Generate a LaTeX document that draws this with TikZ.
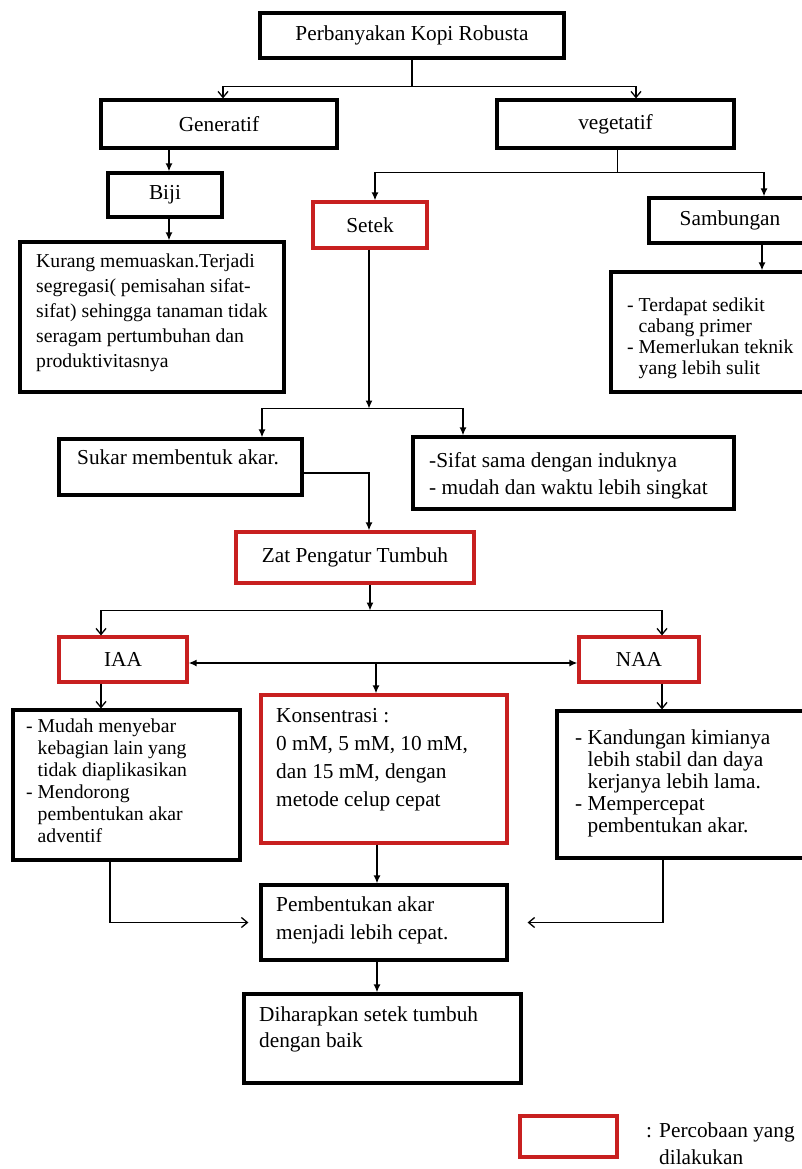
\documentclass[tikz,border=0pt]{standalone}
\usepackage{fontspec}
\setmainfont{Liberation Serif}
\usetikzlibrary{arrows.meta}
\definecolor{boxred}{RGB}{200,32,32}
\tikzset{
  bbox/.style={draw=black, line width=3.2pt, inner sep=0pt, fill=white},
  rbox/.style={draw=boxred, line width=3.2pt, inner sep=0pt, fill=white},
  ftxt/.style={font=\fontsize{21.3}{25}\selectfont},
  txt/.style={font=\fontsize{21.3}{#1}\selectfont, inner sep=0pt, anchor=north west, align=left},
  stxt/.style={font=\fontsize{19.7}{#1}\selectfont, inner sep=0pt, anchor=north west, align=left},
  ln/.style={draw=black, line width=1.5pt},
  farrow/.style={-{Latex[length=8pt,width=7pt]}},
  barrow/.style={{Latex[length=8pt,width=7pt]}-{Latex[length=8pt,width=7pt]}},
  varrow/.style={-{Straight Barb[length=6pt,width=10pt,line width=1.3pt]}},
}
\newcommand{\dsh}{\phantom{- }}
\begin{document}
\begin{tikzpicture}[x=1pt,y=-1pt]
\useasboundingbox (0,0) rectangle (801,1169);
% boxes
\node[bbox,ftxt,minimum width=304pt,minimum height=45pt] (top) at (412,35.5) {Perbanyakan Kopi Robusta};
\node[bbox,ftxt,minimum width=236pt,minimum height=48pt] (gen) at (219,124) {Generatif};
\node[bbox,ftxt,minimum width=237pt,minimum height=48pt] (veg) at (615.5,124) {vegetatif};
\node[bbox,ftxt,minimum width=114pt,minimum height=44pt] (biji) at (165,195) {Biji};
\node[rbox,ftxt,minimum width=114pt,minimum height=46pt] (setek) at (370,225) {Setek};
\node[bbox,ftxt,minimum width=162pt,minimum height=45pt] (samb) at (730,220.5) {Sambungan};
\node[bbox,minimum width=264pt,minimum height=150pt] (kurang) at (152,317) {};
\node[bbox,minimum width=219pt,minimum height=120pt] (sambdesc) at (720.5,332) {};
\node[bbox,minimum width=243pt,minimum height=56pt] (sukar) at (180.5,467) {};
\node[bbox,minimum width=321pt,minimum height=72pt] (sifat) at (573.5,473) {};
\node[rbox,ftxt,minimum width=238pt,minimum height=51pt] (zat) at (355,557.5) {Zat Pengatur Tumbuh};
\node[rbox,ftxt,minimum width=128pt,minimum height=45pt] (iaa) at (123,659.5) {IAA};
\node[rbox,ftxt,minimum width=120pt,minimum height=45pt] (naa) at (639,659.5) {NAA};
\node[bbox,minimum width=227pt,minimum height=150pt] (iaadesc) at (126.5,785) {};
\node[rbox,minimum width=246pt,minimum height=148pt] (kons) at (384,769) {};
\node[bbox,minimum width=273pt,minimum height=147pt] (naadesc) at (693.5,784.5) {};
\node[bbox,minimum width=246pt,minimum height=75pt] (pemb) at (384,922.5) {};
\node[bbox,minimum width=277pt,minimum height=89pt] (dihar) at (382.5,1038.5) {};
\node[rbox,minimum width=97pt,minimum height=41pt] (legend) at (568.5,1136.5) {};
% texts
\node[stxt=25] (kurangt) at (36,254) {Kurang memuaskan.Terjadi\\segregasi( pemisahan sifat-\\sifat) sehingga tanaman tidak\\seragam pertumbuhan dan\\produktivitasnya};
\node[stxt=21] (sambdesct) at (627,297.5) {- Terdapat sedikit\\\dsh cabang primer\\- Memerlukan teknik\\\dsh yang lebih sulit};
\node[txt=25] (sukart) at (77,450) {Sukar membentuk akar.};
\node[txt=27] (sifatt) at (429,452) {-Sifat sama dengan induknya\\- mudah dan waktu lebih singkat};
\node[stxt=22] (iaadesct) at (26,719) {- Mudah menyebar\\\dsh kebagian lain yang\\\dsh tidak diaplikasikan\\- Mendorong\\\dsh pembentukan akar\\\dsh adventif};
\node[txt=28] (konst) at (276,708) {Konsentrasi :\\0 mM, 5 mM, 10 mM,\\dan 15 mM, dengan\\metode celup cepat};
\node[txt=22] (naadesct) at (575,730) {- Kandungan kimianya\\\dsh lebih stabil dan daya\\\dsh kerjanya lebih lama.\\- Mempercepat\\\dsh pembentukan akar.};
\node[txt=28] (pembt) at (276,897) {Pembentukan akar\\menjadi lebih cepat.};
\node[txt=26] (dihart) at (259,1007) {Diharapkan setek tumbuh\\dengan baik};
\node[txt=27] (legendt) at (646,1123) {: Percobaan yang\\\phantom{: }dilakukan};
% connectors
\draw[ln] (top.south) -- ++(0,27) coordinate (j1);
\draw[ln,varrow] (j1) -| ([xshift=4pt]gen.north);
\draw[ln,varrow] (j1) -| ([xshift=20.5pt]veg.north);
\draw[ln,farrow] ([xshift=4pt]gen.south -| biji.north) -- ([xshift=4pt]biji.north);
\draw[ln,farrow] ([xshift=4pt]biji.south) -- ([xshift=4pt]biji.south |- kurang.north);
\draw[ln] ([xshift=2pt]veg.south) -- ++(0,23) coordinate (j2);
\draw[ln,farrow] (j2) -| ([xshift=5pt]setek.north);
\draw[ln,farrow] (j2) -| ([xshift=34pt]samb.north);
\draw[ln,farrow] ([xshift=32pt]samb.south) -- ([xshift=32pt]samb.south |- sambdesc.north);
\draw[ln,farrow] ([xshift=-1pt]setek.south) -- ++(0,159) coordinate (j3);
\draw[ln,farrow] (j3) -| ([xshift=81.5pt]sukar.north);
\draw[ln,farrow] (j3) -| ([xshift=-110.5pt]sifat.north);
\draw[ln,farrow] ([yshift=-6pt]sukar.east) -| ([xshift=14pt]zat.north);
\draw[ln,farrow] ([xshift=15pt]zat.south) -- ++(0,26) coordinate (j4);
\draw[ln,varrow] (j4) -| ([xshift=-22pt]iaa.north);
\draw[ln,varrow] (j4) -| ([xshift=23pt]naa.north);
\draw[ln,barrow] ([yshift=-3.5pt]iaa.east) -- ([yshift=-3.5pt]naa.west);
\coordinate (j5) at (376,663);
\draw[ln,farrow] (j5) -- (j5 |- kons.north);
\draw[ln,varrow] ([xshift=-22pt]iaa.south) -- ([xshift=-22pt]iaa.south |- iaadesc.north);
\draw[ln,varrow] ([xshift=23pt]naa.south) -- ([xshift=23pt]naa.south |- naadesc.north);
\draw[ln,farrow] ([xshift=-7pt]kons.south) -- ([xshift=-7pt]kons.south |- pemb.north);
\draw[ln,varrow,shorten >=11pt] ([xshift=-16.5pt]iaadesc.south) |- (pemb.west);
\draw[ln,varrow,shorten >=19pt] ([xshift=-30.5pt]naadesc.south) |- (pemb.east);
\draw[ln,farrow] ([xshift=-7pt]pemb.south) -- ([xshift=-7pt]pemb.south |- dihar.north);
\end{tikzpicture}
\end{document}
